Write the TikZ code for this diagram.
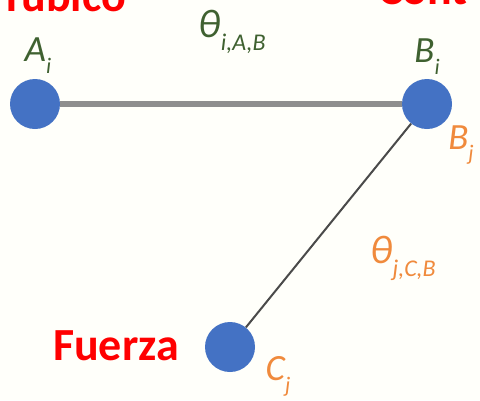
\documentclass[tikz,border=0pt]{standalone}
\usepackage{fontspec}
\setmainfont{Carlito}
\definecolor{dotblue}{HTML}{4472C4}
\definecolor{lblgreen}{HTML}{3F6130}
\definecolor{lblorange}{HTML}{F08A3C}
\definecolor{bargray}{HTML}{8E8E8E}
\definecolor{linkgray}{HTML}{4A4A4A}
\newcommand\lowsub[1]{\raisebox{-0.32em}{\scalebox{0.6}{#1}}}
\tikzset{
  dot/.style={circle, fill=dotblue, minimum size=50pt, inner sep=0pt},
  glbl/.style={text=lblgreen, font=\fontsize{37}{39}\selectfont\itshape, inner sep=0pt},
  olbl/.style={text=lblorange, font=\fontsize{37}{39}\selectfont\itshape, inner sep=0pt},
  redtxt/.style={text=red, font=\fontsize{46}{50}\selectfont\bfseries, inner sep=0pt},
  bar/.style={draw=bargray, line width=6pt},
  link/.style={draw=linkgray, line width=2pt}
}
\begin{document}
\begin{tikzpicture}[x=1pt,y=-1pt]
\useasboundingbox (0,0) rectangle (480,400);
\clip (0,0) rectangle (480,400);
\fill[white!98!yellow] (0,0) rectangle (480,400);
\node[dot] (A) at (35,104) {};
\node[dot] (B) at (427,104) {};
\node[dot] (C) at (230,347) {};
\draw[bar] (A) -- (B);
\draw[link] (B) -- (C);
\node[glbl] (lA) at (38,56) {A\lowsub{i}};
\node[glbl] (lB) at (427,57) {B\lowsub{i}};
\node[glbl] (th1) at (232,32) {\fontsize{40}{42}\selectfont θ\lowsub{i,A,B}};
\node[olbl] (lBj) at (461,145) {B\lowsub{j}};
\node[olbl] (th2) at (403,258) {\fontsize{40}{42}\selectfont θ\lowsub{j,C,B}};
\node[olbl] (lC) at (278,376) {C\lowsub{j}};
\node[redtxt] (fz) at (116,346) {Fuerza};
\node[redtxt, anchor=base east] (tb) at (126,11) {Tubico};
\node[redtxt, anchor=base west] (ct) at (378,4) {Cont};
\end{tikzpicture}
\end{document}
